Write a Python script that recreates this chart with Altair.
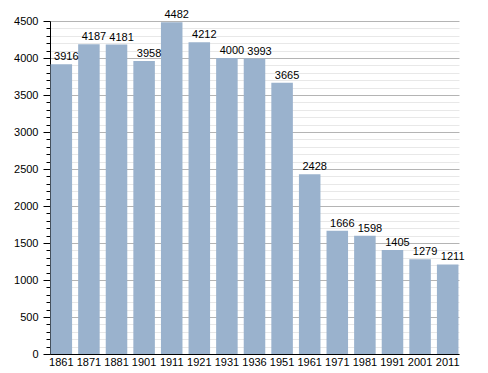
import altair as alt
import pandas as pd

years = ["1861", "1871", "1881", "1901", "1911", "1921", "1931", "1936",
         "1951", "1961", "1971", "1981", "1991", "2001", "2011"]
population = [3916, 4187, 4181, 3958, 4482, 4212, 4000, 3993,
              3665, 2428, 1666, 1598, 1405, 1279, 1211]
major_ticks = [0, 500, 1000, 1500, 2000, 2500, 3000, 3500, 4000, 4500]
minor_ticks = [v for v in range(100, 4500, 100) if v % 500 != 0]

df = pd.DataFrame({"year": years, "pop": population})

FONT = "Liberation Sans"

x_enc = alt.X("year:N", sort=years, title=None,
              scale=alt.Scale(paddingInner=0.22, paddingOuter=0.02),
              axis=alt.Axis(labelAngle=0, ticks=False, domainColor="black",
                            labelColor="black", labelFontSize=11, labelFont=FONT,
                            labelPadding=2))

yscale = alt.Scale(domain=[0, 4500], nice=False)

base = alt.Chart(df)

minor = base.mark_bar(opacity=0).encode(
    x=x_enc,
    y=alt.Y("pop:Q", scale=yscale, title=None,
            axis=alt.Axis(orient="left", values=minor_ticks, labels=False,
                          tickSize=4, tickColor="black", domain=False,
                          gridColor="#e8e8e8", grid=True)),
)

bars = base.mark_bar(color="#9ab2cd").encode(
    x=x_enc,
    y=alt.Y("pop:Q", scale=yscale, title=None,
            axis=alt.Axis(orient="left", values=major_ticks, tickSize=7,
                          tickColor="black", domainColor="black", format="d",
                          gridColor="#b4b4b4", grid=True,
                          labelColor="black", labelFontSize=11, labelFont=FONT,
                          labelPadding=5)),
)

labels = base.mark_text(baseline="alphabetic", dx=5, dy=-4, fontSize=11,
                        font=FONT, color="black").encode(
    x=x_enc,
    y=alt.Y("pop:Q", scale=yscale, axis=None),
    text=alt.Text("pop:Q", format="d"),
)

chart = alt.layer(minor, bars, labels).resolve_axis(y="independent").properties(
    width=409, height=333,
    autosize=alt.AutoSizeParams(type="none"),
    padding={"left": 42, "top": 13, "right": 21, "bottom": 15},
).configure_view(strokeWidth=0)

chart.save("out.html", embed_options={"renderer": "svg", "actions": False})
